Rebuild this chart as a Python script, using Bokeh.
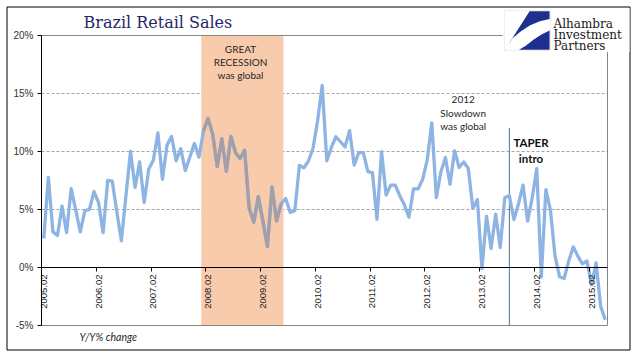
import math
from bokeh.plotting import figure
from bokeh.models import (Range1d, LinearAxis, FixedTicker, PrintfTickFormatter,
                          BoxAnnotation, PolyAnnotation, Label)
from bokeh.embed import file_html
from bokeh.resources import INLINE

# ---------------- data ----------------
first_year, first_month = 2005, 2
yoy_change = [
    2.5, 7.76, 3.07, 2.76, 5.3, 3.0, 6.8, 4.95, 3.07, 4.9, 5.0, 6.55,        # 2005.02-2006.01
    5.6, 3.0, 7.5, 7.44, 4.8, 2.3, 6.2, 10.0, 6.9, 9.1, 5.6, 8.5,            # 2006.02-2007.01
    9.25, 11.6, 7.6, 10.55, 11.3, 9.2, 10.25, 8.35, 9.5, 10.7, 9.5, 11.8,    # 2007.02-2008.01
    12.85, 11.5, 8.7, 11.1, 8.3, 11.3, 9.9, 9.4, 10.1, 5.1, 3.9, 6.1,        # 2008.02-2009.01
    4.0, 1.8, 6.95, 4.0, 5.5, 5.95, 4.75, 4.9, 8.8, 8.6, 9.2, 10.3,          # 2009.02-2010.01
    12.7, 15.7, 9.2, 10.35, 11.27, 10.84, 10.4, 11.8, 8.83, 9.9, 9.9, 8.26,  # 2010.02-2011.01
    8.17, 4.16, 9.98, 6.25, 7.1, 7.1, 6.17, 5.4, 4.33, 6.77, 6.77, 7.6,      # 2011.02-2012.01
    9.25, 12.47, 6.03, 8.25, 9.48, 7.18, 10.06, 8.62, 9.1, 8.53, 5.09, 5.86, # 2012.02-2013.01
    -0.1, 4.43, 1.64, 4.6, 1.72, 6.03, 6.18, 4.14, 5.5, 7.1, 4.0, 6.0,       # 2013.02-2014.01
    8.53, -0.8, 6.72, 4.94, 1.0, -0.8, -0.95, 0.55, 1.78, 0.98, 0.32, 0.57,  # 2014.02-2015.01
    -1.5, 0.4, -3.33, -4.5,                                                  # 2015.02-2015.05
]
tick_labels = ["2005.02", "2006.02", "2007.02", "2008.02", "2009.02", "2010.02",
               "2011.02", "2012.02", "2013.02", "2014.02", "2015.02"]
y_ticks = [-5, 0, 5, 10, 15, 20]
grid_ticks = [5, 10, 15]
recession_months = ["2008.01", "2009.06"]
taper_month = "2013.08"

month_labels = []
yy, mm = first_year, first_month
for _ in yoy_change:
    month_labels.append(f"{yy}.{mm:02d}")
    mm += 1
    if mm > 12:
        mm, yy = 1, yy + 1

n = len(yoy_change)
xs = [i + 0.5 for i in range(n)]
rec_start = month_labels.index(recession_months[0])
rec_end = month_labels.index(recession_months[1])
taper_x = month_labels.index(taper_month) + 0.5
tick_pos = [month_labels.index(t) for t in tick_labels]

# ---------------- geometry (canvas pixels) ----------------
W, H = 636, 355
FL, FR, FT, FB = 41, 607, 35, 325
YMIN, YMAX = -5, 20


def dx(px):
    return (px - FL) / (FR - FL) * n


def dy(py):
    return YMAX - (py - FT) / (FB - FT) * (YMAX - YMIN)


p = figure(width=W, height=H, x_range=Range1d(dx(0), dx(W)), y_range=Range1d(dy(H), dy(0)),
           output_backend="svg", toolbar_location=None,
           x_axis_location=None, y_axis_location=None, min_border=0)
p.outline_line_color = None
p.background_fill_color = "white"
p.border_fill_color = "white"
for g in list(p.xgrid) + list(p.ygrid):
    g.visible = False

# y axis at the left edge of the plot area
ya = LinearAxis(fixed_location=0, bounds=(YMIN, YMAX), ticker=FixedTicker(ticks=y_ticks),
                formatter=PrintfTickFormatter(format="%d%%"),
                axis_line_color="black", major_tick_line_color="black",
                major_tick_out=4, major_tick_in=0, minor_tick_line_color=None,
                major_label_standoff=4, major_label_text_font="Liberation Sans",
                major_label_text_font_size="10px", major_label_text_color="#333333")
p.add_layout(ya, "left")

# x axes at 0%
ax_ticks = LinearAxis(fixed_location=0, bounds=(0, n), ticker=FixedTicker(ticks=tick_pos),
                      axis_line_color="black", major_tick_line_color="black",
                      major_tick_in=0, major_tick_out=4, minor_tick_line_color=None,
                      major_label_text_alpha=0, major_label_text_font_size="1px")
ax_labels = LinearAxis(fixed_location=0, bounds=(0, n),
                       ticker=FixedTicker(ticks=[t + 0.5 for t in tick_pos]),
                       major_label_overrides={t + 0.5: lab for t, lab in zip(tick_pos, tick_labels)},
                       major_label_orientation=math.pi / 2,
                       axis_line_color=None, major_tick_line_color=None, minor_tick_line_color=None,
                       major_tick_in=0, major_tick_out=0, major_label_standoff=7,
                       major_label_text_font="Liberation Sans", major_label_text_font_size="9.5px",
                       major_label_text_color="#222222")
p.add_layout(ax_ticks, "below")
p.add_layout(ax_labels, "below")

# gridlines
p.segment(x0=[0] * len(grid_ticks), x1=[n] * len(grid_ticks), y0=grid_ticks, y1=grid_ticks,
          line_color="#a6a6a6", line_width=1, line_dash="3 2")

# recession shading
p.quad(left=[rec_start], right=[rec_end + 1], bottom=[YMIN], top=[YMAX],
       fill_color="#F8CBAD", line_color=None)

# plot area border
p.quad(left=[0], right=[n], bottom=[YMIN], top=[YMAX], fill_color=None,
       line_color="#868686", line_width=1)

# taper marker
p.segment(x0=[taper_x], y0=[YMIN], x1=[taper_x], y1=[dy(127.5)],
          line_color="#51719a", line_width=1)

# series
p.line(xs, yoy_change, line_color="#8DB4E2", line_width=3.3, line_join="round")
p.line(xs[rec_start:rec_end + 1], yoy_change[rec_start:rec_end + 1],
       line_color="#A39FA8", line_width=3.3, line_join="round")

# outer frame
p.quad(left=[dx(6.5)], right=[dx(629.5)], top=[dy(6.5)], bottom=[dy(349.5)],
       fill_color=None, line_color="black", line_width=1)


def lab(text, px, py, size, font="Lato", style="normal", color="#262626",
        align="center", baseline="middle", level="annotation"):
    p.add_layout(Label(x=dx(px), y=dy(py), text=text, text_font=font,
                       text_font_size=size, text_font_style=style, text_color=color,
                       text_align=align, text_baseline=baseline, level=level))


# annotations
for i, t in enumerate(["GREAT", "RECESSION", "was global"]):
    lab(t, 240, 48.5 + 13 * i, "10px")
for i, t in enumerate(["2012", "Slowdown", "was global"]):
    lab(t, 462.7, 99.3 + 13 * i, "10px")
lab("TAPER", 530.5, 142, "11.5px", style="bold", color="#111111")
lab("intro", 530.5, 158, "11.5px", style="bold", color="#111111")
lab("Y/Y% change", 79, 336, "10.5px", style="italic", align="left")
lab("Brazil Retail Sales", 83, 22, "16px", font="DejaVu Serif", color="#1f276a", align="left")

# logo
p.add_layout(BoxAnnotation(left=dx(502), right=dx(629), top=dy(7.5), bottom=dy(51.5),
                           fill_color="white", fill_alpha=1, line_color=None, level="overlay"))
LX0, LY0, LW, LH = 504, 10, 46, 40
p.add_layout(BoxAnnotation(left=dx(LX0), right=dx(LX0 + LW), top=dy(LY0), bottom=dy(LY0 + LH),
                           fill_color="white", fill_alpha=1, line_color="#c8c8c8",
                           line_width=1, level="overlay"))
upper = [(0.545, 0.02), (0.98, 0.02), (0.98, 0.215), (0.769, 0.27), (0.559, 0.369),
         (0.35, 0.523), (0.175, 0.692), (0.035, 0.938)]
lower = [(0.315, 0.98), (0.98, 0.98), (0.98, 0.5), (0.804, 0.6), (0.629, 0.731), (0.455, 0.885)]
for shape in (upper, lower):
    p.add_layout(PolyAnnotation(xs=[dx(LX0 + fx * LW) for fx, fy in shape],
                                ys=[dy(LY0 + fy * LH) for fx, fy in shape],
                                fill_color="#1f2f8f", fill_alpha=1, line_color=None,
                                level="overlay"))
for i, t in enumerate(["Alhambra", "Investment", "Partners"]):
    lab(t, 553, 23 + 11 * i, "12px", font="DejaVu Serif", color="#1a1a1a",
        align="left", baseline="alphabetic", level="overlay")

open("out.html", "w").write(file_html(p, INLINE))
